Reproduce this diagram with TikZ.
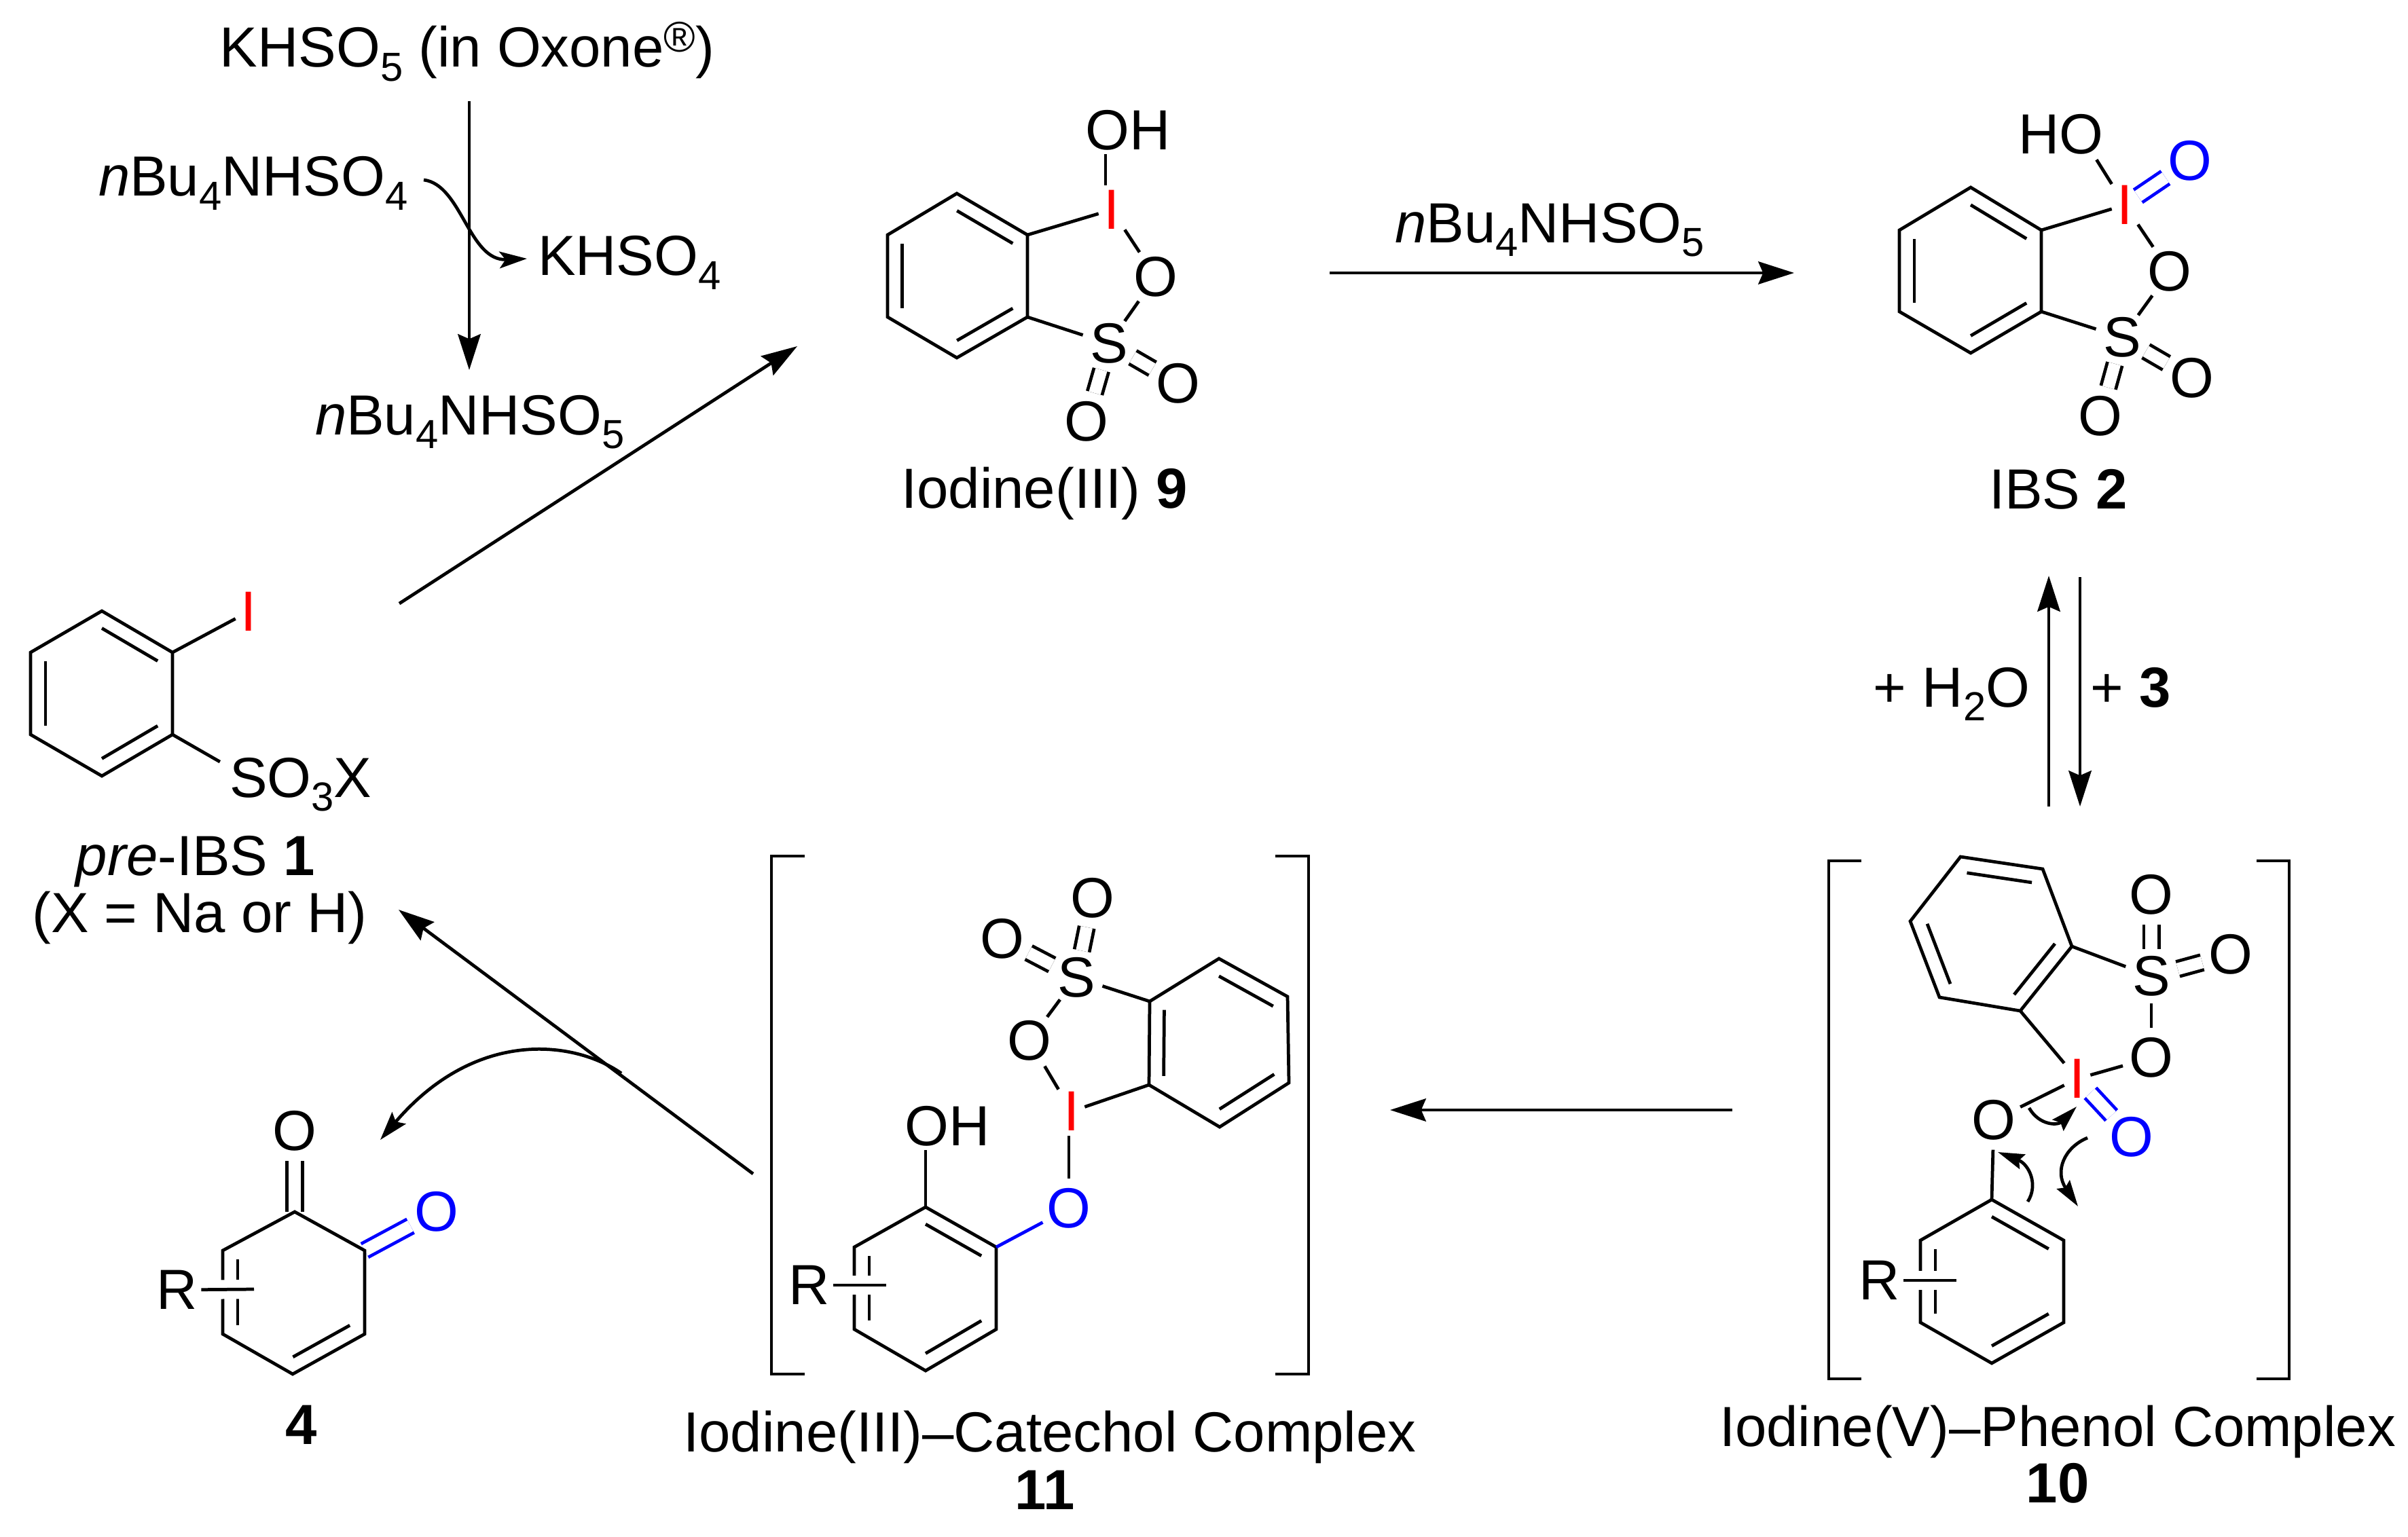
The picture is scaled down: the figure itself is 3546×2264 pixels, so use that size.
\documentclass[tikz,border=0pt]{standalone}
\usepackage{fontspec}
\setmainfont{Liberation Sans}
\usetikzlibrary{calc,arrows.meta}
\definecolor{iodred}{RGB}{255,0,0}
\definecolor{oxblue}{RGB}{0,0,255}
\newcommand{\subs}[1]{\raisebox{-5.7pt}{\fontsize{17}{17}\selectfont #1}}
\newcommand{\inbond}[3]{\draw[bond] ($(#1)!0.21!(#3)$) -- ($(#2)!0.21!(#3)$);}
\tikzset{
  bond/.style={line width=1.35pt, line join=miter},
  dblbond/.style={line width=1.35pt, double, double distance=5pt},
  subbar/.style={line width=1.35pt, preaction={draw=white, line width=8pt}},
  flowarrow/.style={-{Stealth[length=15pt,width=9.5pt,inset=2pt]}, line width=1.35pt},
  curlarrow/.style={-{Stealth[length=12pt,width=7.5pt,inset=2pt]}, line width=1.35pt},
  smallarrow/.style={-{Stealth[length=11.5pt,width=7pt,inset=2.5pt]}, line width=1.35pt},
  pusharrow/.style={-{Stealth[length=11pt,width=6.5pt,inset=1.5pt]}, line width=1.35pt},
  atomO/.style={circle, inner sep=0pt, outer sep=0pt},
  atomI/.style={rectangle, inner sep=2.2pt, outer sep=0pt, text=iodred},
  atomgap/.style={circle, inner sep=0pt, outer sep=0pt, minimum size=25pt},
  atomR/.style={rectangle, inner sep=1.5pt, outer sep=0pt},
  lbl/.style={anchor=base, inner sep=0pt, outer sep=0pt}
}
\begin{document}
\begin{tikzpicture}[x=0.01cm, y=-0.01cm, every node/.style={font=\fontsize{23.7}{28}\selectfont}]
  \useasboundingbox (0,0) rectangle (3546,2264);
  % reagents
  \node[lbl] (oxone) at (688,99) {KHSO\subs{5} (in Oxone\raisebox{6.5pt}{\fontsize{18}{18}\selectfont ®})};
  \node[lbl, anchor=base west] (hso4) at (145,289) {\textit{n}Bu\subs{4}NHSO\subs{4}};
  \node[lbl, anchor=base west] (khso4) at (792,406) {KHSO\subs{4}};
  \node[lbl, anchor=base west] (hso5) at (464,640) {\textit{n}Bu\subs{4}NHSO\subs{5}};
  \coordinate (oxs) at (691,149);
  \coordinate (oxe) at (691,545);
  \coordinate (cus) at (624,265);
  \coordinate (cue) at (776,381);
  \draw[flowarrow] (oxs) -- (oxe);
  \draw[smallarrow] (cus) .. controls (680,272) and (690,385) .. (cue);
  % pre-IBS 1
  \foreach \n/\x/\y in {a/150/900, b/254/961, c/254/1082, d/150/1143, e/45/1082, f/45/961, r/150/1021}
    \coordinate (\n1) at (\x,\y);
  \node[atomI] (I1) at (366,901) {I};
  \node[lbl, anchor=base west] (so3x) at (338,1174) {SO\subs{3}X};
  \node[atomgap] (S1) at (362,1144) {};
  \node[lbl] (t1) at (288,1289) {\textit{pre}-IBS \textbf{1}};
  \node[lbl] (t1b) at (294,1373) {(X = Na or H)};
  \draw[bond] (a1) -- (b1) -- (c1) -- (d1) -- (e1) -- (f1) -- cycle;
  \inbond{a1}{b1}{r1} \inbond{c1}{d1}{r1} \inbond{e1}{f1}{r1}
  \draw[bond] (b1) -- (I1);
  \draw[bond] (c1) -- (S1);
  % iodine(III) 9
  \foreach \n/\x/\y in {a/1409/285, b/1513/346, c/1513/467, d/1409/527, e/1307/467, f/1307/346, r/1410/406}
    \coordinate (\n9) at (\x,\y);
  \node[atomI] (I9) at (1637,309) {I};
  \node[atomR] (OH9) at (1661,192) {OH};
  \coordinate (OHb9) at (1628,192);
  \node[atomO] (O9) at (1702,408) {O};
  \node[atomO] (S9) at (1633,506) {S};
  \node[atomO] (Oa9) at (1735,565) {O};
  \node[atomO] (Ob9) at (1600,621) {O};
  \node[lbl] (t9) at (1538,748) {Iodine(III) \textbf{9}};
  \draw[bond] (a9) -- (b9) -- (c9) -- (d9) -- (e9) -- (f9) -- cycle;
  \inbond{a9}{b9}{r9} \inbond{c9}{d9}{r9} \inbond{e9}{f9}{r9}
  \draw[bond] (b9) -- (I9);
  \draw[bond] (I9.north -| OHb9) -- (OH9.south -| OHb9);
  \draw[bond] (I9) -- (O9);
  \draw[bond] (O9) -- (S9);
  \draw[bond] (c9) -- (S9);
  \draw[dblbond] (S9) -- (Oa9);
  \draw[dblbond] (S9) -- (Ob9);
  % IBS 2
  \foreach \n/\x/\y in {a/2902/276, b/3006/339, c/3006/459, d/2902/520, e/2797/459, f/2797/339, r/2902/399}
    \coordinate (\n2) at (\x,\y);
  \node[atomI] (I2) at (3129,302) {I};
  \node[atomR] (HO2) at (3035,198) {HO};
  \node[atomgap] (Oh2) at (3064,198) {};
  \node[atomO, text=oxblue] (Ox2) at (3225,237) {O};
  \node[atomO] (O2) at (3195,400) {O};
  \node[atomO] (S2) at (3125,497) {S};
  \node[atomO] (Oa2) at (3228,557) {O};
  \node[atomO] (Ob2) at (3093,613) {O};
  \node[lbl] (t2) at (3031,749) {IBS \textbf{2}};
  \draw[bond] (a2) -- (b2) -- (c2) -- (d2) -- (e2) -- (f2) -- cycle;
  \inbond{a2}{b2}{r2} \inbond{c2}{d2}{r2} \inbond{e2}{f2}{r2}
  \draw[bond] (b2) -- (I2);
  \draw[bond] (I2) -- (Oh2);
  \draw[dblbond, draw=oxblue] (I2) -- (Ox2);
  \draw[bond] (I2) -- (O2);
  \draw[bond] (O2) -- (S2);
  \draw[bond] (c2) -- (S2);
  \draw[dblbond] (S2) -- (Oa2);
  \draw[dblbond] (S2) -- (Ob2);
  % complex 10
  \draw[bond] (2741,1268) -- (2693,1268) -- (2693,2031) -- (2741,2031);
  \draw[bond] (3323,1268) -- (3371,1268) -- (3371,2031) -- (3323,2031);
  \foreach \n/\x/\y in {a/2887/1262, b/3008/1280, c/3051/1394, d/2975/1489, e/2856/1469, f/2813/1357, r/2932/1375,
                        g/2933/1767, h/3039/1827, i/3039/1948, j/2933/2008, k/2828/1948, l/2828/1827, q/2933/1887}
    \coordinate (\n10) at (\x,\y);
  \node[atomI] (I10) at (3059,1589) {I};
  \node[atomO] (S10) at (3168,1438) {S};
  \node[atomO] (Oa10) at (3168,1318) {O};
  \node[atomO] (Ob10) at (3285,1406) {O};
  \node[atomO] (Oc10) at (3168,1558) {O};
  \node[atomO, text=oxblue] (Ox10) at (3139,1675) {O};
  \node[atomO] (Oh10) at (2936,1650) {O};
  \node[atomR] (R10) at (2768,1886) {R};
  \coordinate (Re10) at (2881,1886);
  \node[lbl] (t10) at (3030,2130) {Iodine(V)–Phenol Complex};
  \node[lbl] (n10) at (3030,2213) {\textbf{10}};
  \draw[bond] (a10) -- (b10) -- (c10) -- (d10) -- (e10) -- (f10) -- cycle;
  \inbond{a10}{b10}{r10} \inbond{c10}{d10}{r10} \inbond{e10}{f10}{r10}
  \draw[bond] (g10) -- (h10) -- (i10) -- (j10) -- (k10) -- (l10) -- cycle;
  \inbond{g10}{h10}{q10} \inbond{i10}{j10}{q10} \inbond{k10}{l10}{q10}
  \draw[subbar] (R10) -- (Re10);
  \draw[bond] (d10) -- (I10);
  \draw[bond] (c10) -- (S10);
  \draw[dblbond] (S10) -- (Oa10);
  \draw[dblbond] (S10) -- (Ob10);
  \draw[bond] (S10) -- (Oc10);
  \draw[bond] (I10) -- (Oc10);
  \draw[bond] (I10) -- (Oh10);
  \draw[dblbond, draw=oxblue] (I10) -- (Ox10);
  \draw[bond] (Oh10) -- (g10);
  \coordinate (ca10) at (2988,1632);
  \coordinate (cb10) at (3058,1630);
  \coordinate (cc10) at (3074,1676);
  \coordinate (cd10) at (3060,1777);
  \coordinate (ce10) at (2986,1770);
  \coordinate (cf10) at (2942,1697);
  \draw[pusharrow] (ca10) .. controls (3003,1658) and (3030,1658) .. (cb10);
  \draw[pusharrow] (cc10) .. controls (3040,1690) and (3025,1725) .. (cd10);
  \draw[pusharrow] (ce10) .. controls (3002,1745) and (2988,1715) .. (cf10);
  % complex 11
  \draw[bond] (1185,1261) -- (1136,1261) -- (1136,2024) -- (1185,2024);
  \draw[bond] (1878,1261) -- (1927,1261) -- (1927,2024) -- (1878,2024);
  \foreach \n/\x/\y in {a/1693/1475, b/1795/1412, c/1896/1468, d/1898/1595, e/1796/1660, f/1692/1598, r/1795/1535,
                        g/1363/1778, h/1467/1837, i/1467/1958, j/1363/2019, k/1258/1958, l/1258/1837, q/1363/1898}
    \coordinate (\n11) at (\x,\y);
  \node[atomI] (I11) at (1578,1637) {I};
  \node[atomO] (S11) at (1585,1440) {S};
  \node[atomO] (Oa11) at (1609,1323) {O};
  \node[atomO] (Ob11) at (1476,1383) {O};
  \node[atomO] (Oc11) at (1516,1533) {O};
  \node[atomO, text=oxblue] (Ox11) at (1574,1780) {O};
  \node[atomR] (OH11) at (1395,1659) {OH};
  \node[atomR] (R11) at (1192,1893) {R};
  \coordinate (Re11) at (1305,1893);
  \node[lbl] (t11) at (1546,2138) {Iodine(III)–Catechol Complex};
  \node[lbl] (n11) at (1539,2223) {\textbf{11}};
  \draw[bond] (a11) -- (b11) -- (c11) -- (d11) -- (e11) -- (f11) -- cycle;
  \inbond{b11}{c11}{r11} \inbond{d11}{e11}{r11} \inbond{f11}{a11}{r11}
  \draw[bond] (g11) -- (h11) -- (i11) -- (j11) -- (k11) -- (l11) -- cycle;
  \inbond{g11}{h11}{q11} \inbond{i11}{j11}{q11} \inbond{k11}{l11}{q11}
  \draw[subbar] (R11) -- (Re11);
  \draw[bond] (f11) -- (I11);
  \draw[bond] (a11) -- (S11);
  \draw[dblbond] (S11) -- (Oa11);
  \draw[dblbond] (S11) -- (Ob11);
  \draw[bond] (S11) -- (Oc11);
  \draw[bond] (Oc11) -- (I11);
  \draw[bond] (I11.south -| Ox11) -- (Ox11);
  \draw[bond, draw=oxblue] (h11) -- (Ox11);
  \draw[bond] (g11) -- (OH11.south -| g11);
  % ortho-quinone 4
  \foreach \n/\x/\y in {a/434/1785, b/537/1842, c/537/1965, d/431/2024, e/328/1965, f/328/1842, r/433/1904}
    \coordinate (\n4) at (\x,\y);
  \node[atomO] (Oa4) at (434,1666) {O};
  \node[atomO, text=oxblue] (Ox4) at (643,1785) {O};
  \node[atomR] (R4) at (261,1900) {R};
  \coordinate (Re4) at (374,1899);
  \node[lbl] (t4) at (444,2127) {\textbf{4}};
  \draw[dblbond, draw=oxblue] (b4) -- (Ox4);
  \draw[dblbond] (a4) -- (Oa4);
  \draw[bond] (a4) -- (b4) -- (c4) -- (d4) -- (e4) -- (f4) -- cycle;
  \inbond{c4}{d4}{r4} \inbond{e4}{f4}{r4}
  \draw[subbar] (R4) -- (Re4);
  % cycle arrows
  \coordinate (s19) at (588,889);
  \coordinate (e19) at (1174,510);
  \draw[flowarrow] (s19) -- (e19);
  \coordinate (s92) at (1958,402);
  \coordinate (e92) at (2642,402);
  \draw[flowarrow] (s92) -- (e92);
  \node[lbl] (top92) at (2282,357) {\textit{n}Bu\subs{4}NHSO\subs{5}};
  \coordinate (s210) at (3063,850);
  \coordinate (e210) at (3063,1188);
  \coordinate (s102) at (3017,1188);
  \coordinate (e102) at (3017,848);
  \draw[flowarrow] (s210) -- (e210);
  \draw[flowarrow] (s102) -- (e102);
  \node[lbl] (water) at (2874,1041) {+ H\subs{2}O};
  \node[lbl] (three) at (3138,1041) {+ \textbf{3}};
  \coordinate (s1011) at (2551,1635);
  \coordinate (e1011) at (2047,1635);
  \draw[flowarrow] (s1011) -- (e1011);
  \coordinate (s111) at (1109,1729);
  \coordinate (e111) at (587,1340);
  \draw[flowarrow] (s111) -- (e111);
  \coordinate (s114) at (915,1581);
  \coordinate (e114) at (560,1679);
  \draw[curlarrow] (s114) .. controls (845,1532) and (700,1515) .. (e114);
\end{tikzpicture}
\end{document}
